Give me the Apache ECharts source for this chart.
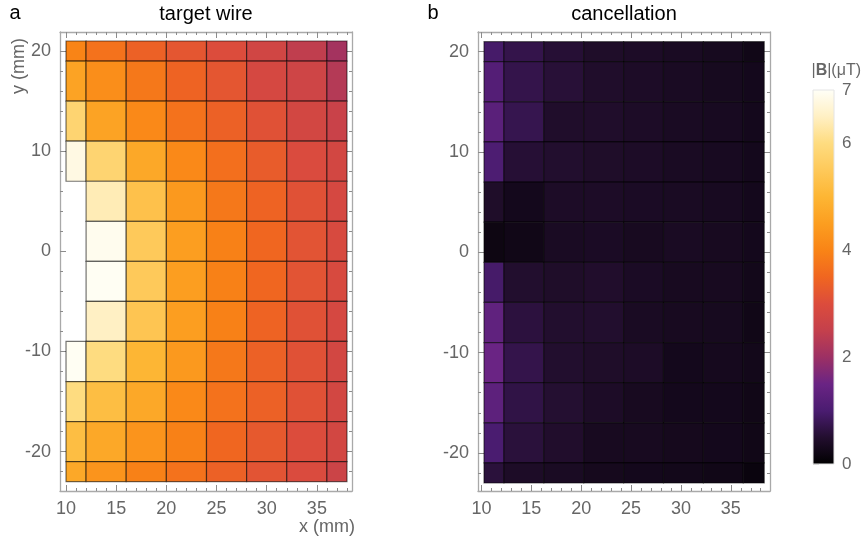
<!DOCTYPE html>
<html>
<head>
<meta charset="utf-8">
<script src="https://cdn.jsdelivr.net/npm/echarts@6/dist/echarts.min.js"></script>
<style>
  html, body { margin: 0; padding: 0; background: #ffffff; }
  #chart { width: 863px; height: 544px; }
</style>
</head>
<body>
<div id="chart"></div>
<script>
// Cell edges in mm (columns left→right, rows top→bottom)
const xEdgesA = [10, 12, 16, 20, 24, 28, 32, 36, 38];
const xEdgesB = [10.25, 12.25, 16.25, 20.25, 24.25, 28.25, 32.25, 36.25, 38.35];
const yEdges = [21, 19, 15, 11, 7, 3, -1, -5, -9, -13, -17, -21, -23];

// |B| in µT, one row per y band (top→bottom); null = no measurement (wire position)
const targetWire = [
  [4.0, 3.7, 3.4, 3.2, 3.0, 2.75, 2.45, 2.1],
  [4.6, 4.2, 3.8, 3.45, 3.2, 2.85, 2.7, 2.3],
  [5.8, 4.6, 4.1, 3.7, 3.4, 3.1, 2.8, 2.6],
  [6.8, 5.8, 4.7, 4.1, 3.65, 3.3, 2.95, 2.8],
  [null, 6.4, 5.3, 4.4, 3.8, 3.45, 3.1, 2.85],
  [null, 6.9, 5.5, 4.5, 3.95, 3.5, 3.15, 2.9],
  [null, 6.95, 5.5, 4.5, 3.95, 3.5, 3.15, 2.9],
  [null, 6.5, 5.4, 4.5, 3.95, 3.45, 3.1, 2.85],
  [6.95, 6.0, 5.0, 4.4, 3.8, 3.4, 3.1, 2.8],
  [6.0, 5.2, 4.7, 4.1, 3.7, 3.4, 3.1, 2.8],
  [5.2, 4.7, 4.3, 3.95, 3.5, 3.25, 3.0, 2.8],
  [4.7, 4.3, 3.95, 3.7, 3.4, 3.15, 2.95, 2.65]
];
const cancellation = [
  [0.95, 0.72, 0.55, 0.45, 0.42, 0.38, 0.34, 0.25],
  [1.15, 0.72, 0.57, 0.47, 0.42, 0.38, 0.34, 0.30],
  [1.25, 0.75, 0.47, 0.47, 0.42, 0.38, 0.36, 0.30],
  [1.05, 0.55, 0.50, 0.45, 0.42, 0.38, 0.36, 0.30],
  [0.45, 0.30, 0.42, 0.42, 0.40, 0.38, 0.36, 0.30],
  [0.20, 0.25, 0.38, 0.40, 0.35, 0.38, 0.35, 0.30],
  [0.95, 0.50, 0.45, 0.48, 0.40, 0.35, 0.35, 0.28],
  [1.35, 0.62, 0.50, 0.50, 0.38, 0.35, 0.34, 0.25],
  [1.50, 0.72, 0.50, 0.45, 0.42, 0.30, 0.33, 0.28],
  [1.30, 0.68, 0.52, 0.42, 0.35, 0.30, 0.30, 0.25],
  [1.00, 0.60, 0.48, 0.35, 0.35, 0.32, 0.30, 0.25],
  [0.60, 0.42, 0.38, 0.32, 0.30, 0.28, 0.25, 0.15]
];

// Tick positions
const xTicks = [10, 15, 20, 25, 30, 35];
const xMinorTicks = [10, 11, 12, 13, 14, 15, 16, 17, 18, 19, 20, 21, 22, 23, 24, 25, 26, 27, 28, 29, 30, 31, 32, 33, 34, 35, 36, 37, 38];
const yTicks = [-20, -10, 0, 10, 20];
const yMinorTicks = [-22, -20, -18, -16, -14, -12, -10, -8, -6, -4, -2, 0, 2, 4, 6, 8, 10, 12, 14, 16, 18, 20];

// Sunset-style palette, evenly spaced over 0…7 µT
const sunset = ['#000000', '#220e2e', '#4a1c70', '#6a2484', '#9c3064', '#c4404c', '#dc4c3c',
  '#f06620', '#f98416', '#fc9e20', '#fdb634', '#fec95a', '#fedc80', '#fff0c4', '#fffff8'];
const bMin = 0, bMax = 7;

const GREY = '#666666';
const FRAME = '#a9a9a9';
const FONT = 'Liberation Sans, Arial, sans-serif';

function cells(xe, ye, vals) {
  const out = [];
  for (let r = 0; r < vals.length; r++) {
    for (let c = 0; c < vals[r].length; c++) {
      const v = vals[r][c];
      if (v === null) continue;
      out.push([xe[c], xe[c + 1], ye[r + 1], ye[r], v]);
    }
  }
  return out;
}

function renderCell(params, api) {
  const p0 = api.coord([api.value(0), api.value(3)]);
  const p1 = api.coord([api.value(1), api.value(2)]);
  return {
    type: 'rect',
    shape: { x: p0[0], y: p0[1], width: p1[0] - p0[0], height: p1[1] - p0[1] },
    style: { fill: api.visual('color'), stroke: 'rgba(0,0,0,0.55)', lineWidth: 1.2 }
  };
}

// Four axes per direction: labelled major, minor, and mirrored ones on the opposite side
function frameAxes(grid, kind, min, max, major, minor) {
  const sides = kind === 'x' ? ['bottom', 'top'] : ['left', 'right'];
  const axes = [];
  sides.forEach((pos, s) => {
    [major, minor].forEach((vals, m) => {
      axes.push({
        type: 'value', gridIndex: grid, position: pos, min: min, max: max,
        axisLine: { show: m === 0, onZero: false, lineStyle: { color: FRAME, width: 1.3 } },
        axisTick: { show: true, inside: true, customValues: vals, length: m === 0 ? 6 : 3,
          lineStyle: { color: '#8c8c8c', width: 1 } },
        axisLabel: { show: s === 0 && m === 0, customValues: major, color: GREY, fontSize: 18,
          fontFamily: FONT, margin: 9, formatter: v => (v < 0 ? '-' + Math.abs(v) : String(v)) },
        splitLine: { show: false }
      });
    });
  });
  return axes;
}

const chart = echarts.init(document.getElementById('chart'), null, { renderer: 'canvas' });

const xAxes = [].concat(
  frameAxes(0, 'x', 9.4, 38.5, xTicks, xMinorTicks),
  frameAxes(1, 'x', 9.65, 38.93, xTicks, xMinorTicks),
  [{ type: 'value', gridIndex: 2, min: 0, max: 1, show: false }]
);
const yAxes = [].concat(
  frameAxes(0, 'y', -23.93, 21.9, yTicks, yMinorTicks),
  frameAxes(1, 'y', -23.8, 21.96, yTicks, yMinorTicks),
  [{
    type: 'value', gridIndex: 2, position: 'right', min: bMin, max: bMax, interval: 2,
    axisLine: { show: false },
    axisTick: { show: true, inside: false, length: 6, lineStyle: { color: '#c8c8c8' } },
    minorTick: { show: true, splitNumber: 4, length: 4, lineStyle: { color: '#d8d8d8' } },
    axisLabel: { color: GREY, fontSize: 17, fontFamily: FONT, margin: 8 },
    splitLine: { show: false }
  }]
);

const colorbarStops = sunset.map((c, i) => ({ offset: i / (sunset.length - 1), color: c }));

chart.setOption({
  animation: false,
  backgroundColor: '#ffffff',
  grid: [
    { left: 60, top: 32, width: 292, height: 459 },
    { left: 478, top: 32, width: 292, height: 459 },
    { left: 813, top: 90, width: 21, height: 374 }
  ],
  xAxis: xAxes,
  yAxis: yAxes,
  visualMap: {
    type: 'continuous', show: false, min: bMin, max: bMax, dimension: 4,
    seriesIndex: [0, 1], inRange: { color: sunset }
  },
  series: [
    { type: 'custom', xAxisIndex: 0, yAxisIndex: 0, renderItem: renderCell,
      encode: { x: [0, 1], y: [2, 3] }, data: cells(xEdgesA, yEdges, targetWire) },
    { type: 'custom', xAxisIndex: 4, yAxisIndex: 4, renderItem: renderCell,
      encode: { x: [0, 1], y: [2, 3] }, data: cells(xEdgesB, yEdges, cancellation) },
    { type: 'custom', xAxisIndex: 8, yAxisIndex: 8, silent: true,
      encode: { x: [0, 1], y: [2, 3] },
      data: [[0, 1, bMin, bMax]],
      renderItem: function (params, api) {
        const p0 = api.coord([api.value(0), api.value(3)]);
        const p1 = api.coord([api.value(1), api.value(2)]);
        return {
          type: 'rect',
          shape: { x: p0[0], y: p0[1], width: p1[0] - p0[0], height: p1[1] - p0[1] },
          style: {
            fill: { type: 'linear', x: 0, y: 1, x2: 0, y2: 0, colorStops: colorbarStops },
            stroke: '#e4e4e4', lineWidth: 1
          }
        };
      } }
  ],
  graphic: [
    { type: 'text', x: 15, y: 13, style: { text: 'a', font: '20px ' + FONT, fill: '#000', align: 'center', verticalAlign: 'middle' } },
    { type: 'text', x: 433, y: 13, style: { text: 'b', font: '20px ' + FONT, fill: '#000', align: 'center', verticalAlign: 'middle' } },
    { type: 'text', x: 206, y: 14, style: { text: 'target wire', font: '20px ' + FONT, fill: '#000', align: 'center', verticalAlign: 'middle' } },
    { type: 'text', x: 624, y: 14, style: { text: 'cancellation', font: '20px ' + FONT, fill: '#000', align: 'center', verticalAlign: 'middle' } },
    { type: 'text', x: 19, y: 66, rotation: Math.PI / 2, style: { text: 'y (mm)', font: '18px ' + FONT, fill: GREY, align: 'center', verticalAlign: 'middle' } },
    { type: 'text', x: 355, y: 527, style: { text: 'x (mm)', font: '18px ' + FONT, fill: GREY, align: 'right', verticalAlign: 'middle' } },
    { type: 'text', x: 861, y: 71, style: {
        text: '|{b|B}|(μT)', font: '16px ' + FONT, fill: GREY, align: 'right', verticalAlign: 'middle',
        rich: { b: { fontWeight: 'bold', fontSize: 16, fontFamily: FONT, fill: GREY } } } }
  ]
});
</script>
</body>
</html>
